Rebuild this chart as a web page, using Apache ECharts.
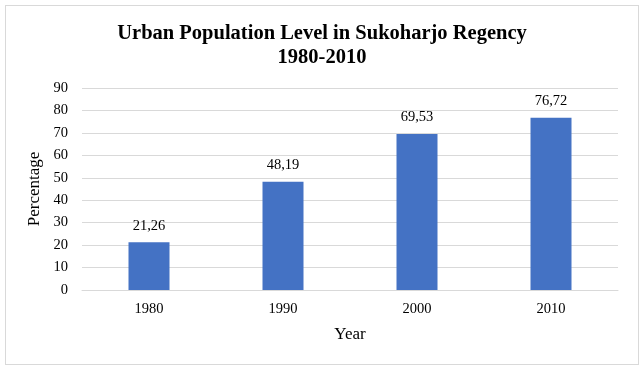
<!DOCTYPE html>
<html><head><meta charset="utf-8">
<script src="https://cdn.jsdelivr.net/npm/echarts@6/dist/echarts.min.js"></script>
<style>html,body{margin:0;padding:0;background:#fff}#c{width:644px;height:370px}
#frame{position:absolute;left:5px;top:5px;width:632px;height:358px;border:1px solid #d9d9d9;pointer-events:none}</style>
</head><body><div id="c"></div><div id="frame"></div>
<script>
const categories = ['1980','1990','2000','2010'];
const values = [21.26, 48.19, 69.53, 76.72];
const labels = ['21,26','48,19','69,53','76,72'];
const titleText = 'Urban Population Level in Sukoharjo Regency\n1980-2010';
const chart = echarts.init(document.getElementById('c'));
const font = '"Liberation Serif","Times New Roman",serif';
chart.setOption({
  animation:false,
  title:{text:titleText,left:'center',top:17,textStyle:{fontFamily:font,fontSize:20.5,fontWeight:'bold',color:'#000',lineHeight:24}},
  grid:{left:82,right:26,top:88,bottom:80},
  xAxis:{type:'category',data:categories,name:'Year',nameLocation:'middle',nameGap:36,
    nameTextStyle:{fontFamily:font,fontSize:17,color:'#000'},
    axisLine:{lineStyle:{color:'#d9d9d9'}},axisTick:{show:false},
    axisLabel:{fontFamily:font,fontSize:14.5,color:'#000',margin:12}},
  yAxis:{type:'value',min:0,max:90,interval:10,name:'Percentage',nameLocation:'middle',nameGap:35,
    nameTextStyle:{fontFamily:font,fontSize:17,color:'#000'},
    axisLine:{show:false},axisTick:{show:false},
    splitLine:{lineStyle:{color:'#d9d9d9'}},
    axisLabel:{fontFamily:font,fontSize:14.5,color:'#000',margin:14}},
  series:[{type:'bar',data:values,barWidth:41,itemStyle:{color:'#4472C4'},
    label:{show:true,position:'top',distance:9,fontFamily:font,fontSize:14.5,color:'#000',
      formatter:p=>labels[p.dataIndex]}}]
});
</script></body></html>
